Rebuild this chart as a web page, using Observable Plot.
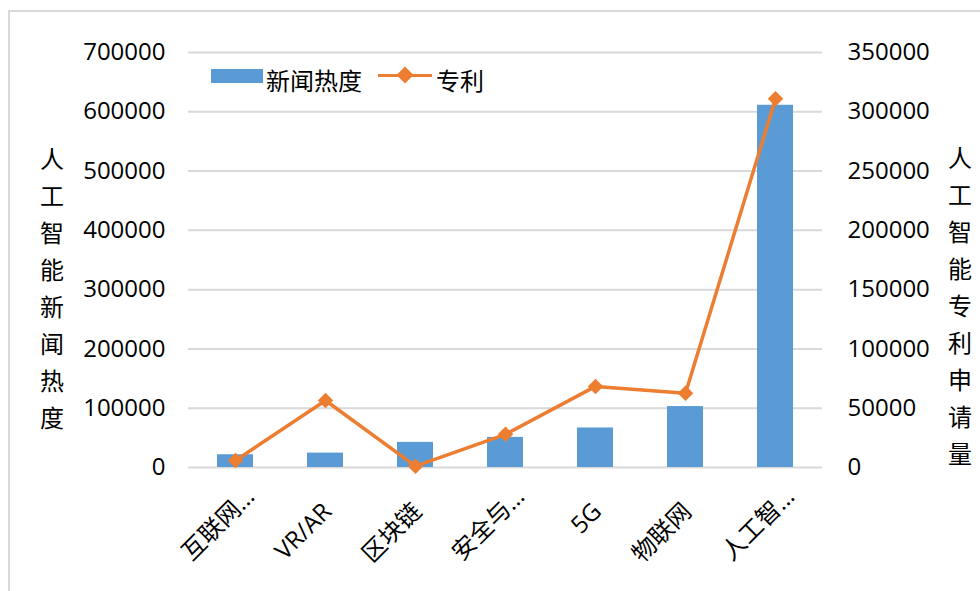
<!DOCTYPE html>
<html>
<head>
<meta charset="utf-8">
<script src="https://cdn.jsdelivr.net/npm/d3@7"></script>
<script src="https://cdn.jsdelivr.net/npm/@observablehq/plot@0.6"></script>
<style>
  html, body { margin: 0; padding: 0; background: #fff; overflow: hidden; }
  #wrap { position: relative; width: 980px; height: 591px; overflow: hidden;
          font-family: "Open Sans", "Noto Sans CJK SC", sans-serif; color: #000; }
  #frame { position: absolute; left: 8px; top: 10px; width: 1000px; height: 700px;
           border: 2px solid #D9D9D9; box-sizing: border-box; }
  #chart { position: absolute; left: 0; top: 0; }
  .vtitle { position: absolute; font-size: 24px; line-height: 37px; width: 30px;
            text-align: center; font-family: "Noto Sans CJK SC", sans-serif; }
  .legend { position: absolute; font-size: 24px; font-family: "Noto Sans CJK SC", sans-serif; }
</style>
</head>
<body>
<div id="wrap">
  <div id="frame"></div>
  <div id="chart"></div>
  <div class="vtitle" id="ltitle" style="left:37px; top:139px;"></div>
  <div class="vtitle" id="rtitle" style="left:945px; top:138px;"></div>
  <div class="legend" style="left:211px; top:69px; width:52px; height:14px; background:#5B9BD5;"></div>
  <div class="legend" id="lg1" style="left:266px; top:62px; line-height:36px;"></div>
  <div class="legend" style="left:378px; top:74px; width:54px; height:3px; background:#ED7D31;"></div>
  <div class="legend" style="left:399px; top:69px; width:12px; height:12px; background:#ED7D31; transform:rotate(45deg);"></div>
  <div class="legend" id="lg2" style="left:436px; top:62px; line-height:36px;"></div>
</div>
<script>
const categories = ["互联网…", "VR/AR", "区块链", "安全与…", "5G", "物联网", "人工智…"];
const newsHeat = [21500, 24300, 42400, 50800, 66700, 102800, 611000];
const patents = [5900, 56500, 1100, 28000, 68400, 62700, 311000];
const leftTicks = [0, 100000, 200000, 300000, 400000, 500000, 600000, 700000];
const rightTicks = [0, 50000, 100000, 150000, 200000, 250000, 300000, 350000];
const seriesNames = ["新闻热度", "专利"];
const leftTitle = "人工智能新闻热度";
const rightTitle = "人工智能专利申请量";

const ratio = rightTicks[rightTicks.length - 1] / leftTicks[leftTicks.length - 1];
const data = categories.map((c, i) => ({cat: c, news: newsHeat[i], patent: patents[i]}));
const truncated = categories.filter(c => c.endsWith("…"));
const full = categories.filter(c => !c.endsWith("…"));
const labelFont = "'Open Sans', 'Noto Sans CJK SC', sans-serif";

const chart = Plot.plot({
  width: 980,
  height: 591,
  marginLeft: 188,
  marginRight: 158,
  marginTop: 52,
  marginBottom: 124,
  style: {fontFamily: "'Open Sans', 'Noto Sans CJK SC', sans-serif", fontSize: "24px", background: "transparent"},
  x: {type: "band", domain: categories, paddingInner: 0.6, paddingOuter: 0.3},
  y: {domain: [0, leftTicks[leftTicks.length - 1]]},
  marks: [
    Plot.ruleY(leftTicks, {stroke: "#D9D9D9", strokeWidth: 2}),
    Plot.barY(data, {x: "cat", y: "news", fill: "#5B9BD5"}),
    Plot.line(data, {x: "cat", y: d => d.patent / ratio, stroke: "#ED7D31", strokeWidth: 3.5}),
    Plot.dot(data, {x: "cat", y: d => d.patent / ratio, symbol: "diamond2", r: 7, fill: "#ED7D31"}),
    Plot.axisY(leftTicks, {anchor: "left", tickSize: 0, tickPadding: 23, tickFormat: d3.format("d"), fontSize: 24, label: null}),
    Plot.axisY(rightTicks.map(v => v / ratio), {anchor: "right", tickSize: 0, tickPadding: 25, tickFormat: d => d3.format("d")(Math.round(d * ratio)), fontSize: 24, textAnchor: "start", label: null}),
    Plot.axisX(truncated, {tickRotate: -45, tickSize: 0, tickPadding: 25, dx: 15, fontSize: 24, label: null, fontFamily: labelFont}),
    Plot.axisX(full, {tickRotate: -45, tickSize: 0, tickPadding: 40, dx: 2, fontSize: 24, label: null, fontFamily: labelFont})
  ]
});
document.getElementById("chart").appendChild(chart);
document.getElementById("ltitle").innerHTML = leftTitle.split("").join("<br>");
document.getElementById("rtitle").innerHTML = rightTitle.split("").join("<br>");
document.getElementById("lg1").textContent = seriesNames[0];
document.getElementById("lg2").textContent = seriesNames[1];
</script>
</body>
</html>
